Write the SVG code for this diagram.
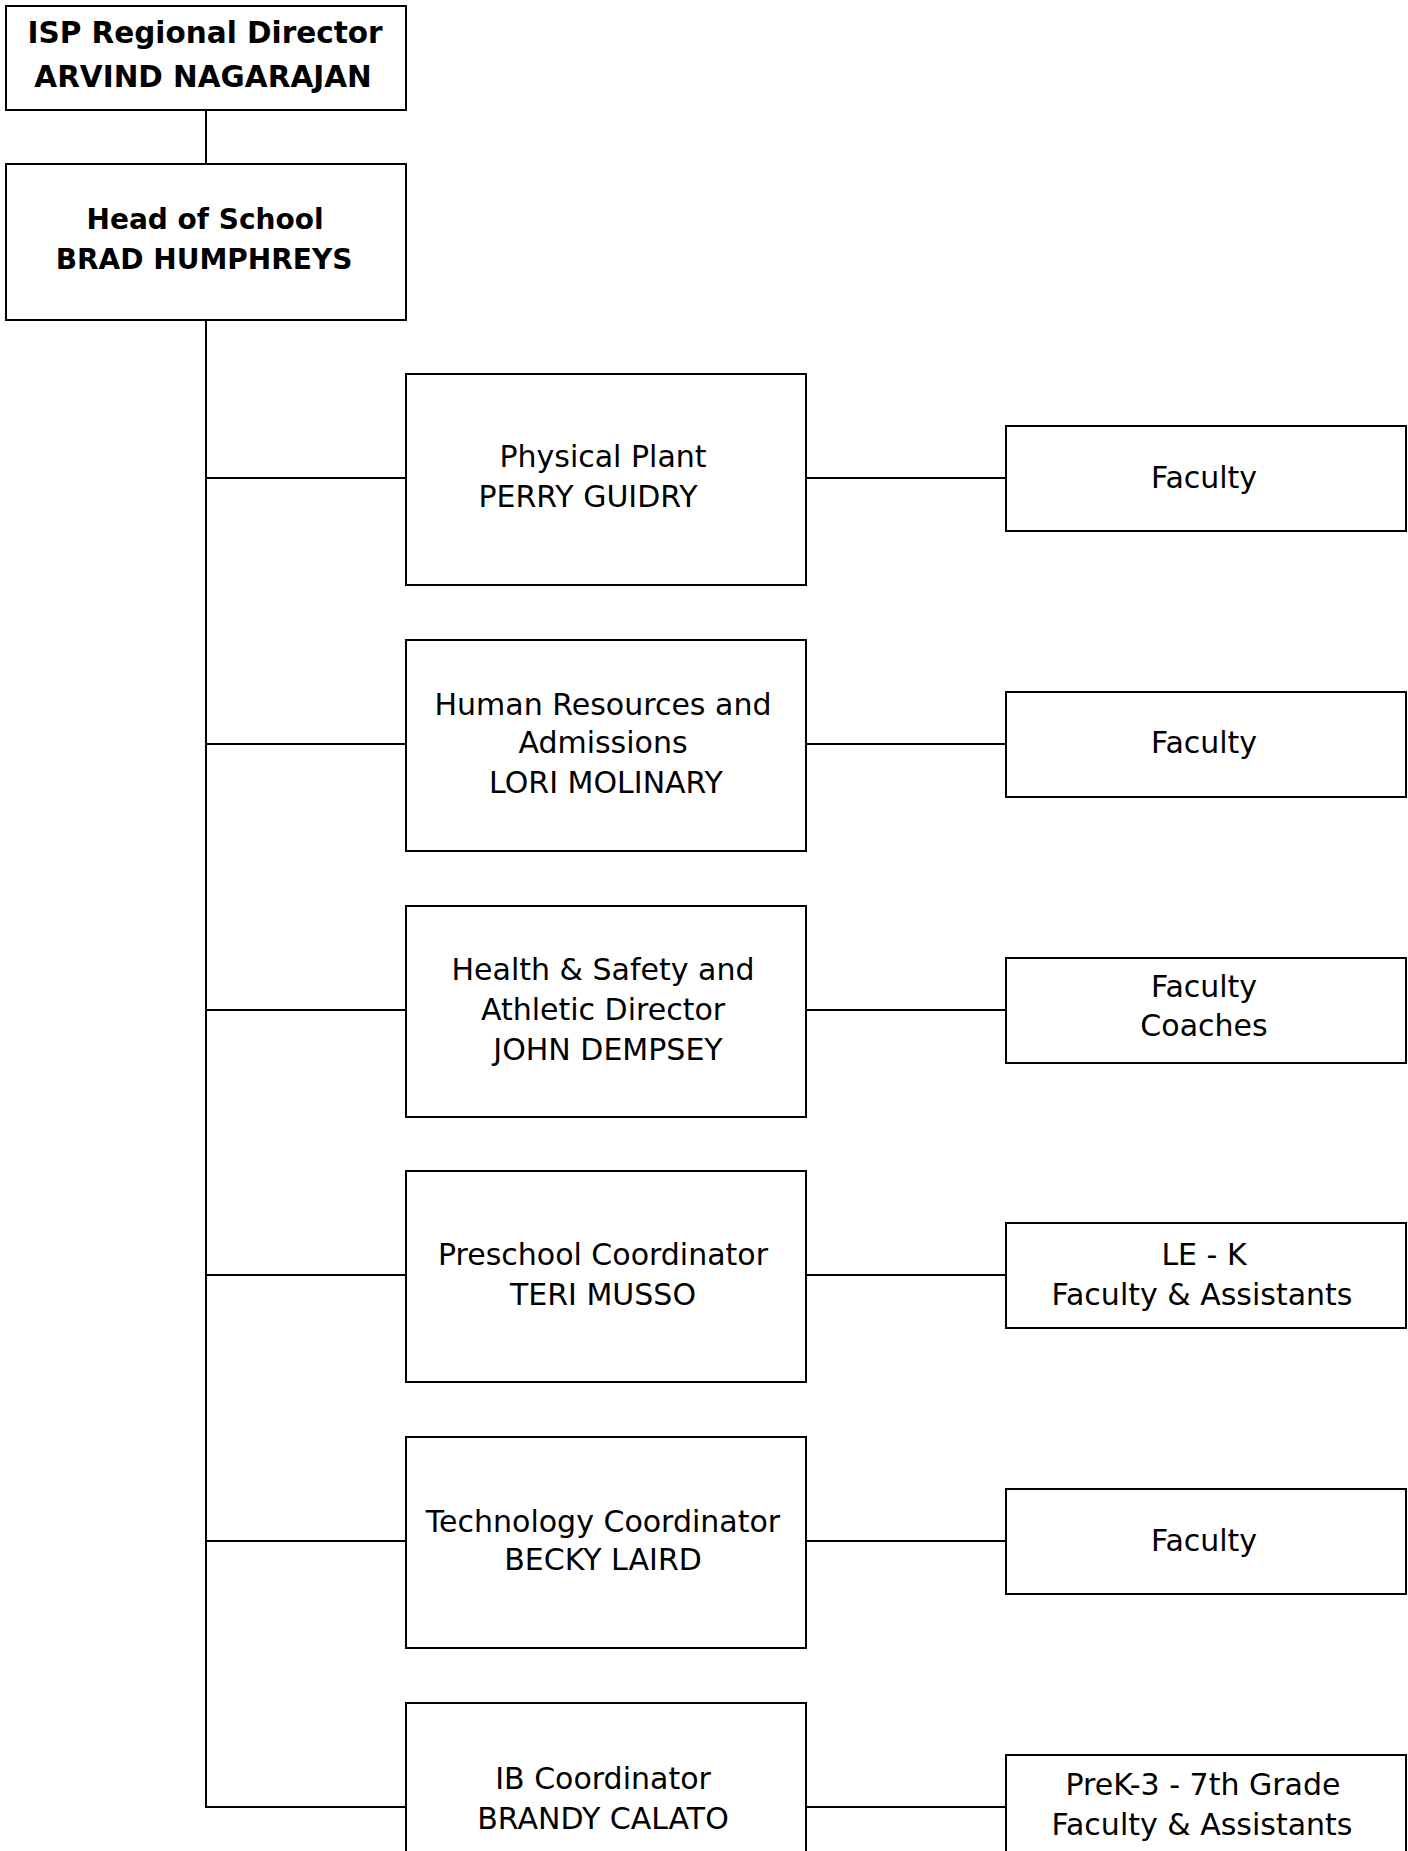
<svg xmlns="http://www.w3.org/2000/svg" width="1408" height="1851" viewBox="0 0 1408 1851">
<style>
.box{fill:#fff;stroke:#000;stroke-width:2}
.ln{stroke:#000;stroke-width:2;fill:none}
text{font-family:"DejaVu Sans","Liberation Sans",sans-serif;font-size:30px;fill:#000;text-anchor:middle}
.b{font-weight:bold;font-size:29.5px}
.h{font-weight:bold;font-size:28px}
</style>
<rect width="1408" height="1851" fill="#fff"/>
<g id="connectors">
<line class="ln" x1="206" y1="110" x2="206" y2="164"/>
<line class="ln" x1="206" y1="320" x2="206" y2="1808"/>
<line class="ln" x1="205" y1="478" x2="406" y2="478"/>
<line class="ln" x1="205" y1="744" x2="406" y2="744"/>
<line class="ln" x1="205" y1="1010" x2="406" y2="1010"/>
<line class="ln" x1="205" y1="1275" x2="406" y2="1275"/>
<line class="ln" x1="205" y1="1541" x2="406" y2="1541"/>
<line class="ln" x1="205" y1="1807" x2="406" y2="1807"/>
<line class="ln" x1="806" y1="478" x2="1006" y2="478"/>
<line class="ln" x1="806" y1="744" x2="1006" y2="744"/>
<line class="ln" x1="806" y1="1010" x2="1006" y2="1010"/>
<line class="ln" x1="806" y1="1275" x2="1006" y2="1275"/>
<line class="ln" x1="806" y1="1541" x2="1006" y2="1541"/>
<line class="ln" x1="806" y1="1807" x2="1006" y2="1807"/>
</g>
<g id="regional-director">
<rect class="box" x="6" y="6" width="400" height="104"/>
<text class="b" x="205" y="43">ISP Regional Director</text>
<text class="b" x="203" y="87">ARVIND NAGARAJAN</text>
</g>
<g id="head-of-school">
<rect class="box" x="6" y="164" width="400" height="156"/>
<text class="h" x="205" y="229">Head of School</text>
<text class="h" x="204" y="269">BRAD HUMPHREYS</text>
</g>
<g id="physical-plant">
<rect class="box" x="406" y="374" width="400" height="211"/>
<text x="603" y="467">Physical Plant</text>
<text x="588" y="507">PERRY GUIDRY</text>
</g>
<g id="hr">
<rect class="box" x="406" y="640" width="400" height="211"/>
<text x="603" y="715">Human Resources and</text>
<text x="603" y="753">Admissions</text>
<text x="606" y="793">LORI MOLINARY</text>
</g>
<g id="health">
<rect class="box" x="406" y="906" width="400" height="211"/>
<text x="603" y="980">Health &amp; Safety and</text>
<text x="603" y="1020">Athletic Director</text>
<text x="608" y="1060">JOHN DEMPSEY</text>
</g>
<g id="preschool">
<rect class="box" x="406" y="1171" width="400" height="211"/>
<text x="603" y="1265">Preschool Coordinator</text>
<text x="603" y="1305">TERI MUSSO</text>
</g>
<g id="technology">
<rect class="box" x="406" y="1437" width="400" height="211"/>
<text x="603" y="1532">Technology Coordinator</text>
<text x="603" y="1570">BECKY LAIRD</text>
</g>
<g id="ib">
<rect class="box" x="406" y="1703" width="400" height="211"/>
<text x="603" y="1789">IB Coordinator</text>
<text x="603" y="1829">BRANDY CALATO</text>
</g>
<g id="faculty-1">
<rect class="box" x="1006" y="426" width="400" height="105"/>
<text x="1204" y="488">Faculty</text>
</g>
<g id="faculty-2">
<rect class="box" x="1006" y="692" width="400" height="105"/>
<text x="1204" y="753">Faculty</text>
</g>
<g id="faculty-coaches">
<rect class="box" x="1006" y="958" width="400" height="105"/>
<text x="1204" y="997">Faculty</text>
<text x="1204" y="1036">Coaches</text>
</g>
<g id="lek">
<rect class="box" x="1006" y="1223" width="400" height="105"/>
<text x="1204" y="1265">LE - K</text>
<text x="1202" y="1305">Faculty &amp; Assistants</text>
</g>
<g id="faculty-5">
<rect class="box" x="1006" y="1489" width="400" height="105"/>
<text x="1204" y="1551">Faculty</text>
</g>
<g id="prek">
<rect class="box" x="1006" y="1755" width="400" height="105"/>
<text x="1203" y="1795">PreK-3 - 7th Grade</text>
<text x="1202" y="1835">Faculty &amp; Assistants</text>
</g>
</svg>
